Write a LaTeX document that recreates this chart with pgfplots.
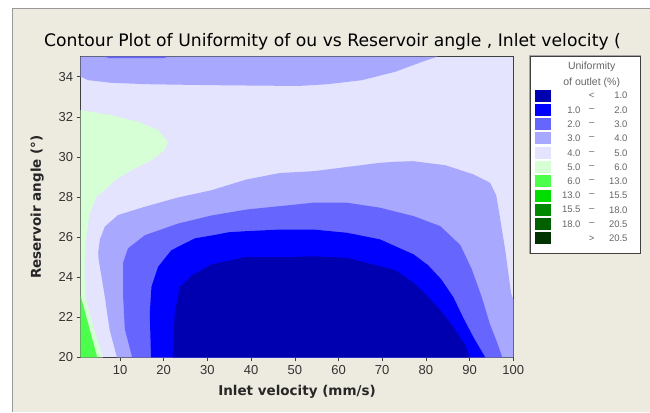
\documentclass[border=0pt]{standalone}
\usepackage{fontspec}
\setmainfont{DejaVu Sans}
\newfontfamily\lib{Liberation Sans}
\usepackage{pgfplots}
\pgfplotsset{compat=1.18}
\definecolor{bgbeige}{HTML}{EDEAE0}
\definecolor{c1}{HTML}{0000B0}
\definecolor{c2}{HTML}{0000FF}
\definecolor{c3}{HTML}{6666FF}
\definecolor{c4}{HTML}{A8A8FF}
\definecolor{c5}{HTML}{E4E4FF}
\definecolor{c6}{HTML}{D6FFD6}
\definecolor{c7}{HTML}{4DFF4D}
\definecolor{c8}{HTML}{00DD00}
\definecolor{c9}{HTML}{008800}
\definecolor{c10}{HTML}{006000}
\definecolor{c11}{HTML}{003300}
\begin{document}
\begin{tikzpicture}[x=1pt,y=1pt]
\useasboundingbox (0,0) rectangle (650,412);
\fill[white] (0,0) rectangle (650,412);
\fill[bgbeige] (12,0) rectangle (650,404);
\draw[black!40, line width=1pt] (12.5,0) -- (12.5,403.5) -- (650,403.5);
\node[font=\fontsize{17.2}{20}\selectfont] at (332.5,370.3) {Contour Plot of Uniformity of ou vs Reservoir angle , Inlet velocity (};
\begin{axis}[
  at={(80.7pt,54.5pt)}, anchor=south west,
  scale only axis, width=432.6pt, height=300.8pt,
  xmin=1, xmax=100, ymin=20, ymax=35,
  xtick={10,20,...,100}, ytick={20,22,...,34},
  tick align=outside, xtick pos=left, ytick pos=left,
  major tick length=4pt,
  axis background/.style={fill=c5},
  axis line style={draw=black!75, line width=0.9pt},
  tick style={black!75, line width=0.6pt},
  ticklabel style={font=\lib\fontsize{13}{15}\selectfont, text=black!80},
  /pgf/number format/assume math mode=true,
  xlabel={Inlet velocity (mm/s)}, ylabel={Reservoir angle (°)},
  label style={font=\bfseries\fontsize{13.5}{16}\selectfont, text=black!85},
  xlabel style={at={(axis description cs:0.5,-0.1147)}, anchor=center},
  ylabel style={at={(axis description cs:-0.1003,0.5)}, anchor=center},
]
% 3-4 band at top
\addplot[fill=c4, draw=none] coordinates {(1,35) (1,34.0) (2.7,33.83) (7.9,33.70) (15.7,33.63) (30.8,33.58) (50.8,33.54) (57.6,33.63) (65.4,33.83) (73.0,34.25) (79.2,34.75) (82.6,35)} -- cycle;
% thin 2-3 strip at top
\addplot[fill=c3, draw=none] coordinates {(6.5,35) (7.5,34.93) (20,34.93) (21,35)} -- cycle;
% 5-6 region on the left
\addplot[fill=c6, draw=none] coordinates {(1,32.33) (1.9,32.30) (8.0,32.08) (14.1,31.76) (18.7,31.34) (21.0,30.76) (20.2,30.34) (17.2,29.84) (12.6,29.34) (8.8,28.84) (6.5,28.34) (4.7,28.03) (3.1,27.23) (2.2,25.9) (1.9,24.8) (1.9,24.0) (2.1,23.0) (4.05,21.4) (6.1,20) (1,20)} -- cycle;
% 6-13 corner
\addplot[fill=c7, draw=none] coordinates {(1,23.06) (3.06,21.40) (4.8,20) (1,20)} -- cycle;
% 3-4 main region
\addplot[fill=c4, draw=none] coordinates {(9.3,20) (7.6,21.4) (6.5,23.06) (5.1,24.89) (5.0,25.24) (5.4,25.89) (6.5,26.52) (9.5,27.10) (15.7,27.52) (23.3,27.98) (30.9,28.34) (39.0,28.88) (46.6,29.20) (54.2,29.29) (61.9,29.50) (69.5,29.71) (73.0,29.76) (77.1,29.79) (84.4,29.59) (90.9,29.13) (94.7,28.71) (96.1,28.08) (96.8,27.18) (98.2,25.29) (99.5,23.19) (100,22.89) (100,20)} -- cycle;
% 2-3 region
\addplot[fill=c3, draw=none] coordinates {(12.8,20) (11.1,21.4) (10.7,23.06) (10.7,24.72) (11.8,25.44) (15.7,26.10) (23.3,26.68) (30.9,27.08) (39.0,27.38) (54.3,27.72) (61.9,27.72) (69.5,27.47) (77.2,27.05) (83.3,26.55) (87.9,25.6) (90.5,24.4) (92.8,23.0) (94.6,21.7) (96.2,20.8) (97.5,20)} -- cycle;
% 1-2 region
\addplot[fill=c2, draw=none] coordinates {(17.1,20) (16.8,22.19) (17.2,23.53) (18.7,24.52) (21.75,25.35) (27.1,25.94) (31.4,26.1) (35,26.25) (39.0,26.3) (46.6,26.38) (54.3,26.38) (61.9,26.22) (69.5,25.89) (77.2,25.14) (80.5,24.6) (83.5,23.9) (86.3,23.0) (88.5,22.0) (90.9,21.0) (93.6,20)} -- cycle;
% <1 region
\addplot[fill=c1, draw=none] coordinates {(22.1,20) (22.5,22.19) (23.7,23.53) (26.5,24.1) (31,24.65) (38.6,25.0) (46.6,25.0) (54.3,25.05) (61.9,24.97) (69.5,24.55) (73.0,24.35) (77.2,23.73) (80.6,23.0) (83.5,22.3) (86.5,21.45) (89.0,20.6) (90.0,20)} -- cycle;
\end{axis}
% legend
\draw[black!35, line width=1.6pt] (529.5,158.5) rectangle (640.5,356.5);
\draw[black!75, line width=0.7pt, fill=white] (530,159) rectangle (640,356);
\begin{scope}[every node/.style={font=\lib\fontsize{9.5}{10}\selectfont, text=black!60, inner sep=0pt}]
\node[font=\lib\fontsize{10.5}{11}\selectfont] at (591.7,345.3) {Uniformity};
\node[font=\lib\fontsize{10.5}{11}\selectfont] at (591.7,329.3) {of outlet (\%)};
\foreach \c [count=\i from 0] in {c1,c2,c3,c4,c5,c6,c7,c8,c9,c10,c11} {
  \fill[\c] (535,{316.3-14.26*\i-6}) rectangle (551,{316.3-14.26*\i+6});
}
\node at (591.7,316.3) {<};
\node[anchor=east] at (627.7,316.3) {1.0};
\foreach \a/\b [count=\i] in {1.0/2.0,2.0/3.0,3.0/4.0,4.0/5.0,5.0/6.0,6.0/13.0,13.0/15.5,15.5/18.0,18.0/20.5} {
  \node[anchor=east] at (580.7,{316.3-14.26*\i}) {\a};
  \node at (591.7,{316.3-14.26*\i}) {–};
  \node[anchor=east] at (627.7,{316.3-14.26*\i}) {\b};
}
\node at (591.7,{316.3-14.26*10}) {>};
\node[anchor=east] at (627.7,{316.3-14.26*10}) {20.5};
\end{scope}
\end{tikzpicture}
\end{document}
